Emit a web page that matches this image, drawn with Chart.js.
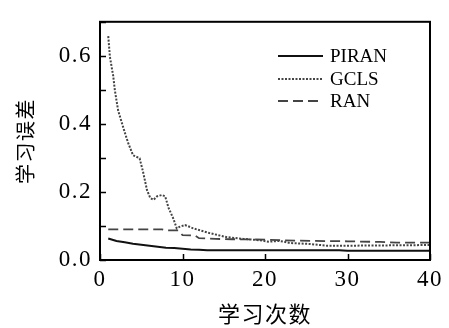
<!DOCTYPE html>
<html>
<head>
<meta charset="utf-8">
<script src="https://cdn.jsdelivr.net/npm/chart.js@4.4.0/dist/chart.umd.min.js"></script>
<style>
  html, body { margin: 0; padding: 0; background: #fff; }
  #box { width: 449px; height: 328px; }
</style>
</head>
<body>
<div id="box"><canvas id="myChart"></canvas></div>
<script>
// learning error vs iteration
const piranX = [1, 2, 3, 4, 5, 6, 7, 8, 9, 10, 11, 12, 13, 20, 29, 30, 40];
const piranY = [0.063, 0.056, 0.052, 0.048, 0.045, 0.042, 0.039, 0.036, 0.035, 0.033, 0.031, 0.030, 0.029, 0.029, 0.029, 0.027, 0.027];

const gclsX = [1, 1.2, 1.6, 1.8, 2.2, 3, 3.4, 4, 4.8, 5.2, 5.7, 6.1, 6.5, 6.9, 7.5, 7.9, 8.3, 8.9, 9.3, 9.7, 10.3, 11.3, 13.3, 15.4, 17.4, 19.4, 20.4, 21.8, 23, 25.5, 27.5, 30, 35, 40];
const gclsY = [0.658, 0.597, 0.541, 0.499, 0.439, 0.375, 0.345, 0.308, 0.299, 0.261, 0.205, 0.182, 0.177, 0.187, 0.191, 0.187, 0.154, 0.121, 0.093, 0.098, 0.103, 0.093, 0.079, 0.067, 0.062, 0.058, 0.054, 0.056, 0.050, 0.047, 0.042, 0.042, 0.043, 0.044];

const ranX = [1, 7.5, 8, 9.5, 10, 11.5, 12, 14, 16, 20, 22, 26, 30, 34, 36, 40];
const ranY = [0.090, 0.090, 0.087, 0.087, 0.073, 0.072, 0.064, 0.062, 0.061, 0.060, 0.058, 0.056, 0.055, 0.053, 0.051, 0.051];

const seriesNames = ["PIRAN", "GCLS", "RAN"];
const xTitle = "学习次数";
const yTitle = "学习误差";

function points(xs, ys) {
  return xs.map(function (x, i) {
    return { x: x, y: ys[i] };
  });
}

// frame, inward ticks and legend
const framePlugin = {
  id: "frame",
  beforeDraw(chart) {
    chart.ctx.letterSpacing = "1.5px";
  },
  afterDraw(chart) {
    const ctx = chart.ctx;
    const a = chart.chartArea;
    const xs = chart.scales.x;
    const ys = chart.scales.y;
    ctx.save();
    ctx.letterSpacing = "0px";
    ctx.strokeStyle = "#000";
    ctx.lineWidth = 2;
    ctx.strokeRect(a.left, a.top, a.right - a.left, a.bottom - a.top);
    ctx.lineWidth = 1.5;
    ctx.beginPath();
    ys.ticks.forEach(function (t) {
      const py = Math.round(ys.getPixelForValue(t.value)) + 0.5;
      ctx.moveTo(a.left, py);
      ctx.lineTo(a.left + 6, py);
    });
    xs.ticks.forEach(function (t) {
      const px = Math.round(xs.getPixelForValue(t.value)) + 0.5;
      ctx.moveTo(px, a.bottom);
      ctx.lineTo(px, a.bottom - 6);
    });
    ctx.stroke();

    // legend
    const rows = [56, 79, 101];
    ctx.font = "19px 'Liberation Serif'";
    ctx.textBaseline = "middle";
    ctx.fillStyle = "#000";
    chart.data.datasets.forEach(function (ds, i) {
      ctx.strokeStyle = ds.borderColor;
      ctx.lineWidth = ds.borderWidth;
      ctx.setLineDash(ds.borderDash || []);
      ctx.beginPath();
      ctx.moveTo(278, rows[i]);
      ctx.lineTo(323, rows[i]);
      ctx.stroke();
      ctx.setLineDash([]);
      ctx.fillText(ds.label, 330, rows[i] + 1);
    });
    ctx.restore();
  },
};

new Chart(document.getElementById("myChart"), {
  type: "line",
  data: {
    datasets: [
      {
        label: seriesNames[0],
        data: points(piranX, piranY),
        borderColor: "#111",
        borderWidth: 2,
      },
      {
        label: seriesNames[1],
        data: points(gclsX, gclsY),
        borderColor: "#444",
        borderWidth: 2,
        borderDash: [2, 1.5],
      },
      {
        label: seriesNames[2],
        data: points(ranX, ranY),
        borderColor: "#444",
        borderWidth: 1.8,
        borderDash: [10, 5],
      },
    ],
  },
  options: {
    responsive: true,
    maintainAspectRatio: false,
    animation: false,
    events: [],
    elements: { point: { radius: 0 }, line: { tension: 0 } },
    layout: { padding: { top: 10, right: 19, left: 0, bottom: 0 } },
    plugins: {
      legend: { display: false },
      tooltip: { enabled: false },
    },
    scales: {
      x: {
        type: "linear",
        min: 0,
        max: 40,
        grid: { display: false, drawTicks: false },
        border: { display: false },
        ticks: {
          stepSize: 10,
          padding: 6,
          color: "#000",
          font: { family: "'Liberation Serif'", size: 23 },
        },
        title: {
          display: true,
          text: xTitle,
          color: "#000",
          padding: { top: 0, bottom: 1 },
          font: { family: "'Noto Sans CJK SC'", size: 22 },
        },
        afterFit(scale) {
          scale.height = 68;
        },
      },
      y: {
        min: 0,
        max: 0.7,
        grid: { display: false, drawTicks: false },
        border: { display: false },
        ticks: {
          stepSize: 0.1,
          padding: 8,
          color: "#000",
          font: { family: "'Liberation Serif'", size: 23 },
          callback: function (v) {
            return Math.round(v * 10) % 2 === 0 ? v.toFixed(1) : "";
          },
        },
        title: {
          display: true,
          text: yTitle,
          color: "#000",
          padding: { top: 13, bottom: 0 },
          font: { family: "'Noto Sans CJK SC'", size: 20 },
        },
        afterFit(scale) {
          scale.width = 100;
        },
      },
    },
  },
  plugins: [framePlugin],
});
</script>
</body>
</html>
